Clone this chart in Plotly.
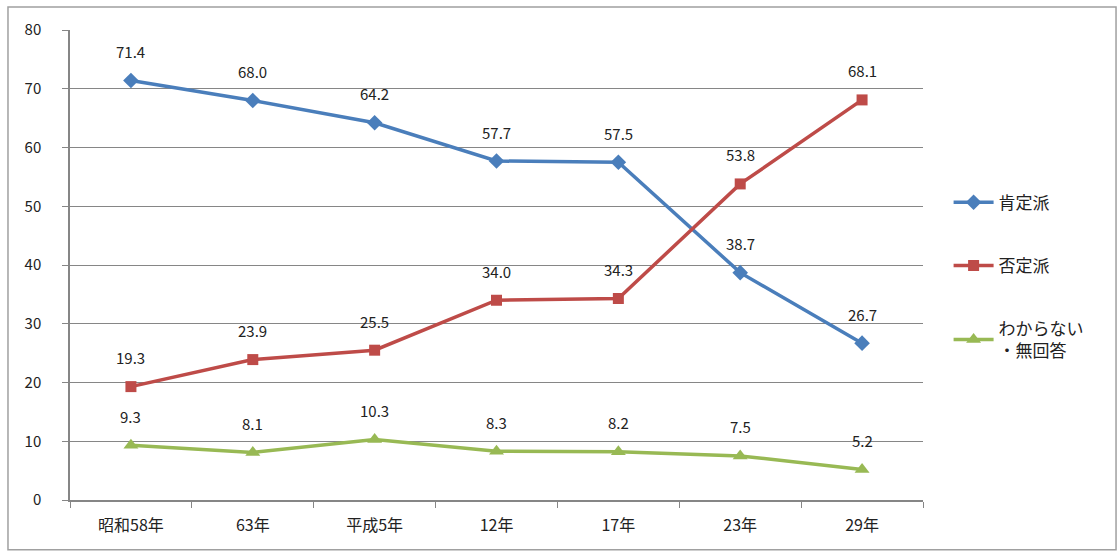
import plotly.graph_objects as go

years = ["昭和58年", "63年", "平成5年", "12年", "17年", "23年", "29年"]
positive = [71.4, 68.0, 64.2, 57.7, 57.5, 38.7, 26.7]
negative = [19.3, 23.9, 25.5, 34.0, 34.3, 53.8, 68.1]
unknown = [9.3, 8.1, 10.3, 8.3, 8.2, 7.5, 5.2]

series = [
    ("肯定派", positive, "#4A7EBB", "diamond", 12),
    ("否定派", negative, "#BE4B48", "square", 11),
    ("わからない<br>・無回答", unknown, "#98B954", "triangle-up", 13),
]

FONT = "Noto Sans CJK JP, Noto Sans, sans-serif"

fig = go.Figure()
annotations = []
for i, (name, vals, color, symbol, msize) in enumerate(series):
    fig.add_trace(go.Scatter(
        x=years, y=vals, name=name, mode="lines+markers",
        line=dict(color=color, width=3.5),
        marker=dict(symbol=symbol, size=msize, color=color),
        legendgroup=f"g{i}",
    ))
    for x, v in zip(years, vals):
        annotations.append(dict(
            x=x, y=v, text=f"{v:.1f}", showarrow=False, yshift=29,
            font=dict(size=15, color="#222222", family=FONT),
        ))

fig.update_layout(
    width=1120, height=553,
    margin=dict(l=70, r=197, t=30, b=53),
    paper_bgcolor="white", plot_bgcolor="white",
    font=dict(family=FONT, size=15, color="#222222"),
    annotations=annotations,
    showlegend=True,
    legend=dict(
        x=1.03, y=0.475, xanchor="left", yanchor="middle",
        tracegroupgap=38, font=dict(size=17, family=FONT),
        itemwidth=40,
    ),
    shapes=[dict(
        type="rect", xref="paper", yref="paper",
        x0=-0.0727, x1=1.2263, y0=-0.106, y1=1.049,
        line=dict(color="#A0A0A0", width=1.5), fillcolor="rgba(0,0,0,0)",
        layer="below",
    )],
)

fig.update_xaxes(
    type="category", range=[-0.5, 6.5],
    showline=True, linecolor="#868686", linewidth=1.5,
    ticks="outside", ticklen=6, tickcolor="#868686", tickson="boundaries",
    showgrid=False, ticklabelstandoff=10,
    tickfont=dict(size=16, family=FONT),
)
fig.update_yaxes(
    range=[0, 80], dtick=10,
    showline=True, linecolor="#868686", linewidth=1.5,
    ticks="outside", ticklen=6, tickcolor="#868686",
    showgrid=True, gridcolor="#868686", gridwidth=1,
    zeroline=False, ticklabelstandoff=18,
    tickfont=dict(size=15, family=FONT),
)

fig.write_html("out.html")
